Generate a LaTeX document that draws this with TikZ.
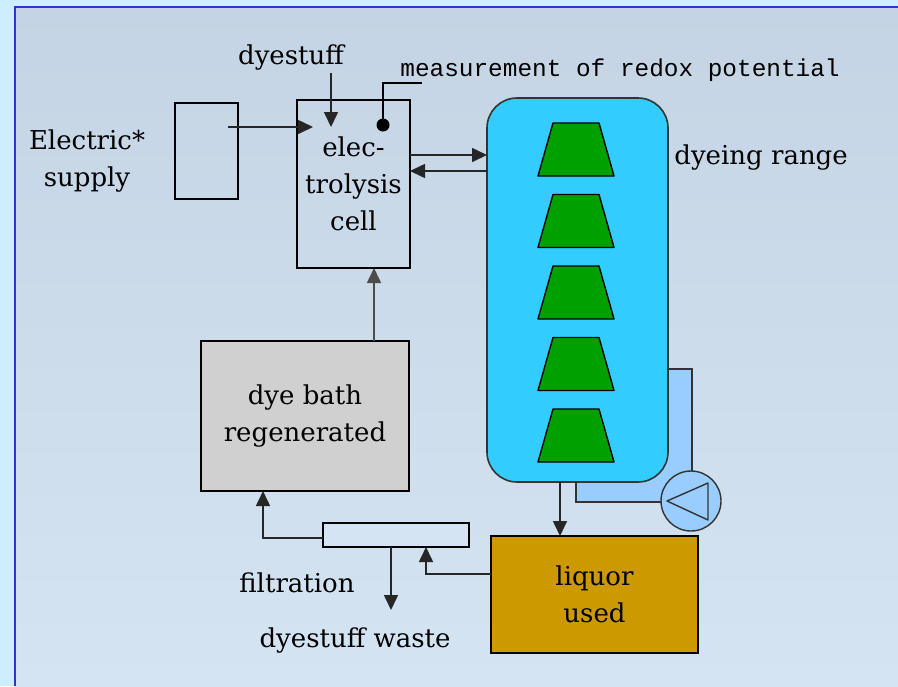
\documentclass[tikz,border=0pt]{standalone}
\usepackage{fontspec}
\setmainfont{DejaVu Serif}
\newfontfamily\redoxfont{Liberation Mono}
\usetikzlibrary{arrows.meta,positioning,calc}
\definecolor{Frame}{HTML}{CCEEFF}
\definecolor{Edge}{HTML}{3333CC}
\definecolor{PanelTop}{HTML}{C4D4E4}
\definecolor{PanelBot}{HTML}{D4E4F2}
\definecolor{Tank}{HTML}{33CCFF}
\definecolor{Leaf}{HTML}{00A000}
\definecolor{Loop}{HTML}{99CCFF}
\definecolor{Bath}{HTML}{D0D0D0}
\definecolor{Liquor}{HTML}{CC9900}
\tikzset{
 every node/.style={font=\fontsize{13}{18.5}\selectfont,text=black},
 arr/.style={-{Triangle[length=7.5pt,width=7pt]},line width=.8pt,draw=black!85},
 box/.style={draw=black,line width=.8pt,inner sep=0pt,outer sep=0pt,align=center},
 tag/.style={align=center,inner sep=0pt},
 leaf/.style={fill=Leaf,draw=black,line width=.7pt,line join=round},
 }

\begin{document}
\begin{tikzpicture}[x=.5pt,y=-.5pt]
 \useasboundingbox (0,0) rectangle (898,686);
 \fill[Frame] (0,0) rectangle (898,686);
 \shade[top color=PanelTop,bottom color=PanelBot] (15,7) rectangle (898,686);
 \draw[Edge,line width=1pt] (15,686) -- (15,7) -- (898,7);
 % supply and cell
 \node[box,minimum width=31.5pt,minimum height=48pt] (supply) at (206.5,151) {};
 \node[tag] (elec) at (87,161) {Electric*\\supply};
 \node[box,minimum width=56.5pt,minimum height=84pt] (cell) at (353.5,184) {elec-\\trolysis\\cell};
 \node[tag] (dyein) at (291,58) {dyestuff};
 \node[tag,anchor=west,font=\redoxfont\fontsize{12.2}{14}\selectfont] (redox) at (400,70) {measurement of redox potential};
 % dyeing range with pump loop
 \draw[fill=Loop,draw=black!80,line width=.7pt] (576,369) rectangle (692,502);
 \node[box,draw=black!80,fill=Tank,rounded corners=15pt,minimum width=90.5pt,minimum height=192pt] (range) at (577.5,290) {};
 \foreach \t in {123,194.5,266,337.5,409}
  \draw[leaf] (553,\t) -- (599,\t) -- (614,\t+53) -- (538,\t+53) -- cycle;
 \node[tag,anchor=west] (rangetxt) at (674,158) {dyeing range};
 \node[circle,draw=black!80,fill=Loop,line width=.7pt,minimum size=30pt,inner sep=0pt] (pump) at (691,501) {};
 \draw[black!80,line width=.7pt,line join=round] (667,501) -- (708,483) -- (708,520) -- cycle;
 % lower boxes
 \node[box,fill=Bath,minimum width=104pt,minimum height=75pt] (bath) at (305,416) {dye bath\\regenerated};
 \node[box,fill=Liquor,minimum width=103.5pt,minimum height=58.5pt] (liquor) at (594.5,594.5) {liquor\\used};
 \node[box,fill=PanelBot,minimum width=73pt,minimum height=12pt] (filter) at (396,535) {};
 \node[tag] (filtxt) at (297,583) {filtration};
 \node[tag] (waste) at (355,640) {dyestuff waste};
 % connectors
 \coordinate (plug) at (228,127); \coordinate (anode) at (313,127);
 \coordinate (feed) at (331,73); \coordinate (feedin) at (331,127);
 \coordinate (probetop) at (422,83);
 \coordinate (fwd) at (0,155); \coordinate (rev) at (0,171);
 \coordinate (down) at (560,0); \coordinate (up) at (374,0);
 \coordinate (ret) at (426,574); \coordinate (back) at (263,538);
 \coordinate (drain) at (391,610);
 \draw[arr] (plug) -- (anode);
 \draw[arr] (feed) -- (feedin);
 \node[circle,fill=black,inner sep=0pt,minimum size=6.5pt] (probe) at (383,125) {};
 \draw[line width=.8pt] (probe.center) |- (probetop);
 \draw[arr] (cell.east |- fwd) -- (range.west |- fwd);
 \draw[arr] (range.west |- rev) -- (cell.east |- rev);
 \draw[arr] (range.south -| down) -- (liquor.north -| down);
 \draw[arr] (liquor.west |- ret) -| (filter.south -| ret);
 \draw[arr] (filter.south -| drain) -- (drain);
 \draw[arr] (filter.west |- back) -| (bath.south -| back);
 \draw[arr,draw=black!70] (bath.north -| up) -- (cell.south -| up);
\end{tikzpicture}
\end{document}
